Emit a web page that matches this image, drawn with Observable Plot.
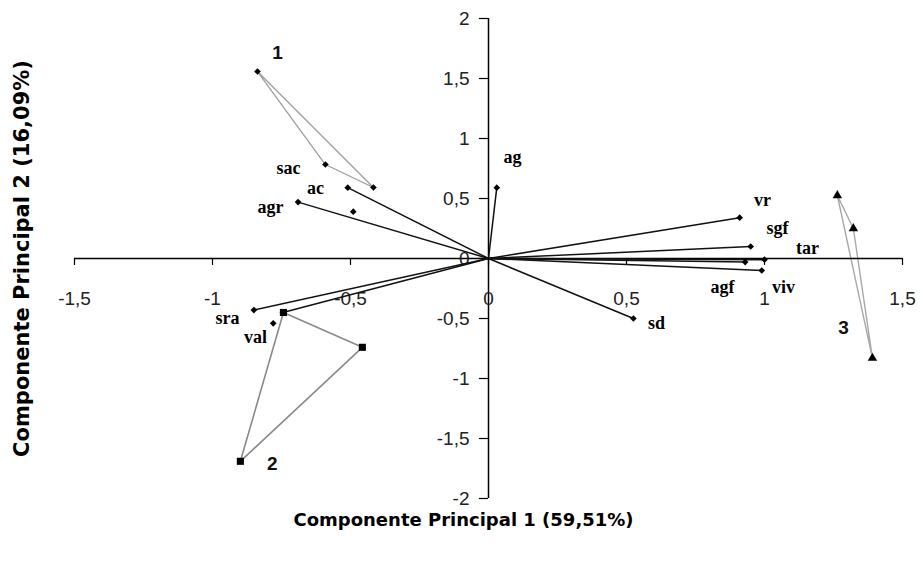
<!DOCTYPE html>
<html>
<head>
<meta charset="utf-8">
<script src="https://cdn.jsdelivr.net/npm/d3@7"></script>
<script src="https://cdn.jsdelivr.net/npm/@observablehq/plot@0.6"></script>
<style>
  html, body { margin: 0; padding: 0; background: #fff; }
  #chart svg { display: block; }
</style>
</head>
<body>
<div id="chart"></div>
<script>
// ---- Data ----
const xTicks = [-1.5, -1, -0.5, 0, 0.5, 1, 1.5];
const xTickLabels = ["-1,5", "-1", "-0,5", "0", "0,5", "1", "1,5"];
const yTicks = [-2, -1.5, -1, -0.5, 0, 0.5, 1, 1.5, 2];
const yTickLabels = ["-2", "-1,5", "-1", "-0,5", "0", "0,5", "1", "1,5", "2"];

// variable vectors (loadings): name, PC1, PC2
const vecNames = ["ag", "ac", "agr", "vr", "sgf", "tar", "agf", "viv", "sd", "sra", "val"];
const vecPC1   = [0.03, -0.51, -0.69, 0.91, 0.95, 1.00, 0.93, 0.99, 0.525, -0.85, -0.745];
const vecPC2   = [0.59, 0.59, 0.47, 0.34, 0.10, -0.01, -0.03, -0.10, -0.50, -0.43, -0.45];

// extra variable points without their own line
const extraPC1 = [-0.49, -0.78];
const extraPC2 = [0.39, -0.54];

// variable label anchors
const labNames = ["sac", "ac", "agr", "ag", "vr", "sgf", "tar", "agf", "viv", "sd", "sra", "val"];
const labPC1   = [-0.725, -0.627, -0.79, 0.087, 0.993, 1.047, 1.156, 0.848, 1.069, 0.609, -0.946, -0.844];
const labPC2   = [0.75, 0.583, 0.425, 0.842, 0.483, 0.25, 0.083, -0.242, -0.242, -0.542, -0.5, -0.658];

// groups (triangles of scores)
const g1PC1 = [-0.837, -0.591, -0.417];
const g1PC2 = [1.558, 0.783, 0.592];
const g2PC1 = [-0.743, -0.457, -0.899];
const g2PC2 = [-0.45, -0.74, -1.69];
const g3PC1 = [1.264, 1.322, 1.391];
const g3PC2 = [0.525, 0.25, -0.83];

const groupNames = ["1", "2", "3"];
const groupLabPC1 = [-0.764, -0.783, 1.286];
const groupLabPC2 = [1.717, -1.708, -0.575];

const xTitle = "Componente Principal 1 (59,51%)";
const yTitle = "Componente Principal 2 (16,09%)";

// ---- Tables ----
const vectors = vecNames.map((n, i) => ({name: n, x: vecPC1[i], y: vecPC2[i]}));
const extras = extraPC1.map((x, i) => ({x, y: extraPC2[i]}));
const labels = labNames.map((n, i) => ({name: n, x: labPC1[i], y: labPC2[i]}));
const closed = (xs, ys) => [...xs.map((x, i) => ({x, y: ys[i]})), {x: xs[0], y: ys[0]}];
const g1 = closed(g1PC1, g1PC2);
const g2 = closed(g2PC1, g2PC2);
const g3 = closed(g3PC1, g3PC2);
const g1pts = g1.slice(0, 3), g2pts = g2.slice(0, 3), g3pts = g3.slice(0, 3);
const groupLabels = groupNames.map((n, i) => ({name: n, x: groupLabPC1[i], y: groupLabPC2[i]}));

const tickLenX = 0.058;  // y-units for x-axis tick marks
const tickLenY = 0.033;  // x-units for y-axis tick marks

const chart = Plot.plot({
  width: 923,
  height: 563,
  marginLeft: 74,
  marginRight: 21,
  marginTop: 18,
  marginBottom: 65,
  x: {domain: [-1.5, 1.5], axis: null},
  y: {domain: [-2, 2], axis: null},
  style: {background: "#fff", fontFamily: "Liberation Sans, Arial, sans-serif"},
  marks: [
    // group polygons
    Plot.line(g1, {x: "x", y: "y", stroke: "#9a9a9a", strokeWidth: 1.2}),
    Plot.line(g2, {x: "x", y: "y", stroke: "#8a8a8a", strokeWidth: 1.6}),
    Plot.line(g3, {x: "x", y: "y", stroke: "#a8a8a8", strokeWidth: 1.4}),
    // axes
    Plot.ruleY([0], {stroke: "#000", strokeWidth: 1.5}),
    Plot.ruleX([0], {stroke: "#000", strokeWidth: 1.5}),
    Plot.ruleX(xTicks, {x: d => d, y1: 0, y2: -tickLenX, stroke: "#000", strokeWidth: 1.2}),
    Plot.ruleY(yTicks, {y: d => d, x1: -tickLenY, x2: 0, stroke: "#000", strokeWidth: 1.2}),
    Plot.text(xTicks, {x: d => d, y: 0, text: (d, i) => xTickLabels[i], dy: 40, fontSize: 19, fill: "#222"}),
    Plot.text(yTicks, {x: 0, y: d => d, text: (d, i) => yTickLabels[i], dx: -19, textAnchor: "end", fontSize: 19, fill: "#222"}),
    // vectors
    Plot.link(vectors, {x1: 0, y1: 0, x2: "x", y2: "y", stroke: "#111", strokeWidth: 1.5}),
    Plot.dot(vectors, {x: "x", y: "y", symbol: "diamond2", r: 3, fill: "#000"}),
    Plot.dot(extras, {x: "x", y: "y", symbol: "diamond2", r: 3, fill: "#000"}),
    // group markers
    Plot.dot(g1pts, {x: "x", y: "y", symbol: "diamond2", r: 3, fill: "#000"}),
    Plot.dot(g2pts, {x: "x", y: "y", symbol: "square", r: 4, fill: "#000"}),
    Plot.dot(g3pts, {x: "x", y: "y", symbol: "triangle", r: 3.5, fill: "#000"}),
    // labels
    Plot.text(labels, {x: "x", y: "y", text: "name", fontFamily: "Liberation Serif, Times New Roman, serif", fontWeight: "bold", fontSize: 18, fill: "#000"}),
    Plot.text(groupLabels, {x: "x", y: "y", text: "name", fontFamily: "Liberation Sans, Arial, sans-serif", fontWeight: "bold", fontSize: 19, fill: "#111"}),
    // axis titles
    Plot.text([xTitle], {frameAnchor: "bottom", text: d => d, dx: -25, dy: 27, textAnchor: "middle", fontFamily: "DejaVu Sans, Verdana, sans-serif", fontWeight: "bold", fontSize: 18, fill: "#000"}),
    Plot.text([yTitle], {frameAnchor: "left", text: d => d, rotate: -90, dx: -52, textAnchor: "middle", fontFamily: "DejaVu Sans, Verdana, sans-serif", fontWeight: "bold", fontSize: 21, fill: "#000"})
  ]
});
document.getElementById("chart").appendChild(chart);
</script>
</body>
</html>
